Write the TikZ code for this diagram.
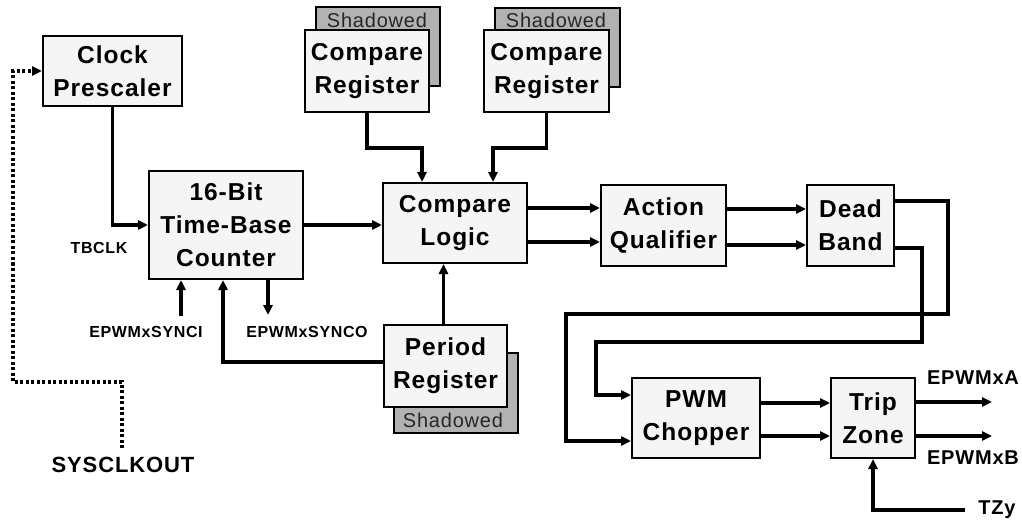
\documentclass[tikz,border=0pt]{standalone}
\usepackage{fontspec}
\setmainfont{Liberation Sans}[LetterSpace=4]
\usetikzlibrary{arrows.meta,calc}
\begin{document}
\begin{tikzpicture}[x=1pt,y=-1pt,
  blk/.style={draw=black,line width=2pt,fill=gray!8,align=center,inner sep=0pt,
    font=\fontsize{24.5}{33}\selectfont\bfseries},
  shad/.style={draw=black,line width=2pt,fill=gray!60,inner sep=0pt},
  shtxt/.style={font=\fontsize{20}{24}\selectfont,text=black!85,inner sep=0pt},
  conn/.style={line width=3.4pt,-{Triangle[length=10pt,width=9pt]}},
  lbl/.style={font=\fontsize{16}{18}\selectfont\bfseries,inner sep=0pt},
  lblb/.style={font=\fontsize{20}{22}\selectfont\bfseries,inner sep=0pt},
  dotw/.style={line width=3.4pt,dash pattern=on 3pt off 2.5pt,-{Triangle[length=10pt,width=9pt]}}
]
\useasboundingbox (0,0) rectangle (1022,521);
% shadow boxes
\node[shad,minimum width=124pt,minimum height=79pt] (cr1s) at (378,47) {};
\node[shtxt] (cr1t) at (377,20) {Shadowed};
\node[shad,minimum width=125pt,minimum height=79pt] (cr2s) at (557.5,47.5) {};
\node[shtxt] (cr2t) at (556,20) {Shadowed};
\node[shad,minimum width=124pt,minimum height=80pt] (prs) at (456,393) {};
\node[shtxt] (prt) at (453,420) {Shadowed};
% blocks
\node[blk,minimum width=139pt,minimum height=70pt] (clk) at (112.5,71) {Clock\\Prescaler};
\node[blk,minimum width=154pt,minimum height=108pt] (cnt) at (226,225) {16-Bit\\Time-Base\\Counter};
\node[blk,minimum width=124pt,minimum height=82pt] (cr1) at (367,71) {Compare\\Register};
\node[blk,minimum width=125pt,minimum height=82pt] (cr2) at (546.5,71) {Compare\\Register};
\node[blk,minimum width=144pt,minimum height=80pt] (cl) at (455,223) {Compare\\Logic};
\node[blk,minimum width=125pt,minimum height=81pt] (aq) at (663.5,225.5) {Action\\Qualifier};
\node[blk,minimum width=87pt,minimum height=81pt] (db) at (850.5,225.5) {Dead\\Band};
\node[blk,minimum width=123pt,minimum height=82pt] (pr) at (445.5,366) {Period\\Register};
\node[blk,minimum width=128pt,minimum height=80pt] (ch) at (696,418) {PWM\\Chopper};
\node[blk,minimum width=84pt,minimum height=80pt] (tz) at (873,418) {Trip\\Zone};
% labels
\node[lbl] (tbclk) at (99,248) {TBCLK};
\node[lbl] (synciL) at (146,332) {EPWMxSYNCI};
\node[lbl] (syncoL) at (307,332) {EPWMxSYNCO};
\node[font=\fontsize{22}{24}\selectfont\bfseries,inner sep=0pt] (sysL) at (123,465) {SYSCLKOUT};
\node[lblb] (epaL) at (973,378) {EPWMxA};
\node[lblb] (epbL) at (973,458) {EPWMxB};
\node[lblb] (tzyL) at (997,510) {TZy};
% free-end coordinates
\coordinate (synci) at (181,316);
\coordinate (synco) at (268,315);
\coordinate (sys) at (122,448);
\coordinate (outA) at (992,402);
\coordinate (outB) at (992,436);
\coordinate (tzy) at (965,510);
% connectors
\draw[conn] (clk.south) |- (cnt.west);
\draw[conn] (cnt.east) -- (cnt.east -| cl.west);
\draw[conn] (cr1.south) -- ++(0,35) -| ($(cl.north)+(-33,0)$);
\draw[conn] (cr2.south) -- ++(0,35) -| ($(cl.north)+(38,0)$);
\draw[conn] ($(cl.east)+(0,-15)$) coordinate (p1) -- (p1 -| aq.west);
\draw[conn] ($(cl.east)+(0,19)$) coordinate (p2) -- (p2 -| aq.west);
\draw[conn] ($(aq.east)+(0,-16.5)$) coordinate (p3) -- (p3 -| db.west);
\draw[conn] ($(aq.east)+(0,19.5)$) coordinate (p4) -- (p4 -| db.west);
\draw[conn] ($(db.east)+(0,-24.5)$) -- (948,201) -- (948,314) -- (566,314) -- (566,441) -- ($(ch.west)+(0,23)$);
\draw[conn] ($(db.east)+(0,22.5)$) -- (922,248) -- (922,342) -- (596,342) -- (596,395) -- ($(ch.west)+(0,-23)$);
\draw[conn] ($(ch.east)+(0,-15)$) coordinate (p5) -- (p5 -| tz.west);
\draw[conn] ($(ch.east)+(0,18)$) coordinate (p6) -- (p6 -| tz.west);
\draw[conn] ($(tz.east)+(0,-16)$) -- (outA);
\draw[conn] ($(tz.east)+(0,18)$) -- (outB);
\draw[conn] (tzy) -| (tz.south);
\draw[conn] (synci) -- (synci |- cnt.south);
\draw[conn] (synco |- cnt.south) -- (synco);
\draw[conn] ($(pr.west)+(0,-4)$) -| ($(cnt.south)+(-3,0)$);
\draw[conn] ($(pr.north)+(-2,0)$) coordinate (p7) -- (p7 |- cl.south);
\draw[dotw] (sys) -- (122,382) -- (13,382) -- (13,71) -- (clk.west);
\end{tikzpicture}
\end{document}
